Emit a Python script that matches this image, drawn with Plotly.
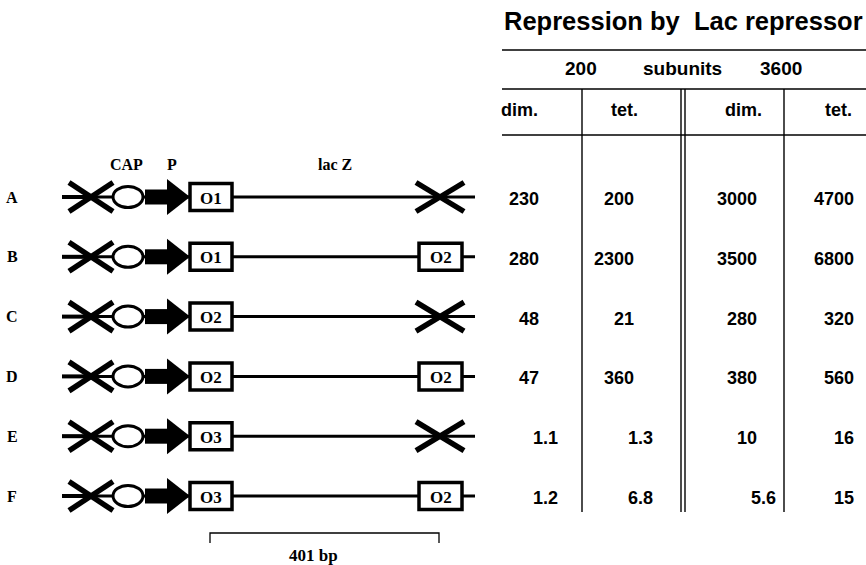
import plotly.graph_objects as go

# ---------------- data ----------------
constructs = ["A", "B", "C", "D", "E", "F"]
first_operator = ["O1", "O1", "O2", "O2", "O3", "O3"]
second_site = [None, "O2", None, "O2", None, "O2"]   # None = deleted (crossed out)
dim_200 = [230, 280, 48, 47, 1.1, 1.2]
tet_200 = [200, 2300, 21, 360, 1.3, 6.8]
dim_3600 = [3000, 3500, 280, 380, 10, 5.6]
tet_3600 = [4700, 6800, 320, 560, 16, 15]
subunit_levels = ["200", "3600"]
column_heads = ["dim.", "tet.", "dim.", "tet."]
element_labels = ["CAP", "P", "lac Z"]
title_text = "Repression by  Lac repressor"
scale_label = "401 bp"

# ---------------- layout constants ----------------
W, H = 866, 565
SANS = "Liberation Sans, Arial, Helvetica, sans-serif"
SERIF = "Liberation Serif, Times New Roman, serif"
ROW0, ROWSTEP = 197, 59.8
def row_y(i):
    return ROW0 + ROWSTEP * i

col_right = [541, 636, 759, 856]
decimal_shift = 19
col_head_x = [519, 624, 743, 838]
vlines = [582, 681, 685, 784]
hlines = [50, 89, 135]
table_left = 502

fig = go.Figure()
fig.update_xaxes(range=[0, W], visible=False, fixedrange=True)
fig.update_yaxes(range=[H, 0], visible=False, fixedrange=True)

def line(x0, y0, x1, y1, w=2, color="black"):
    fig.add_shape(type="line", x0=x0, y0=y0, x1=x1, y1=y1, xref="x", yref="y",
                  line=dict(color=color, width=w), layer="above")

def text(x, y, s, size, family, xanchor="center", bold=True):
    fig.add_annotation(x=x, y=y, xref="x", yref="y", text=f"<b>{s}</b>" if bold else s,
                       showarrow=False, xanchor=xanchor, yanchor="middle",
                       font=dict(family=family, size=size, color="black"))

# ---------------- table ----------------
text(683, 21, title_text, 25.5, SANS)
for y in hlines:
    line(table_left, y, W, y, 1.6)
for x in vlines:
    line(x, hlines[1], x, 512, 1.4)

text(581, 68, subunit_levels[0], 19, SANS)
text(682, 68, "subunits", 19, SANS)
text(781, 68, subunit_levels[1], 19, SANS)
for x, h in zip(col_head_x, column_heads):
    text(x, 110, h, 18, SANS)

def fmt(v):
    return f"{v:g}"

for c, col in enumerate([dim_200, tet_200, dim_3600, tet_3600]):
    for i, v in enumerate(col):
        xr = col_right[c] + (decimal_shift if v != int(v) else 0)
        text(xr, row_y(i) + 2, fmt(v), 18, SANS, xanchor="right")

# ---------------- constructs ----------------
text(126, 164, element_labels[0], 16, SERIF)
text(172, 164, element_labels[1], 16, SERIF)
text(335, 164, element_labels[2], 16, SERIF)

def cross(cx, cy, hw, hh, w=5.5):
    line(cx - hw, cy - hh, cx + hw, cy + hh, w)
    line(cx - hw, cy + hh, cx + hw, cy - hh, w)

def box(x0, x1, cy, label):
    fig.add_shape(type="rect", x0=x0, x1=x1, y0=cy - 13.5, y1=cy + 13.5, xref="x", yref="y",
                  line=dict(color="black", width=3.5), fillcolor="white", layer="above")
    text((x0 + x1) / 2, cy + 1, label, 17, SERIF)

for i, name in enumerate(constructs):
    y = row_y(i)
    text(12, y, name, 16, SERIF)
    # DNA line
    line(62, y, 475, y, 3)
    line(62, y, 90, y, 4)
    # deleted upstream site
    cross(91, y, 22, 14.5)
    # CAP site
    fig.add_shape(type="circle", x0=113, x1=143, y0=y - 10.5, y1=y + 10.5, xref="x", yref="y",
                  line=dict(color="black", width=3), fillcolor="white", layer="above")
    # promoter arrow
    fig.add_shape(type="rect", x0=145, x1=170, y0=y - 7.5, y1=y + 7.5, xref="x", yref="y",
                  line=dict(width=0), fillcolor="black", layer="above")
    fig.add_shape(type="path", path=f"M167,{y-18} L190,{y} L167,{y+18} Z", xref="x", yref="y",
                  line=dict(width=0), fillcolor="black", layer="above")
    # first operator
    box(190, 232, y, first_operator[i])
    # downstream site
    if second_site[i] is None:
        cross(440, y, 24, 14.5)
    else:
        box(419, 462, y, second_site[i])

# scale bar
fig.add_shape(type="path", path="M210,543 L210,533 L439,533 L439,543", xref="x", yref="y",
              line=dict(color="black", width=1.3), layer="above")
text(313, 555, scale_label, 17, SERIF)

fig.update_layout(width=W, height=H, margin=dict(l=0, r=0, t=0, b=0),
                  paper_bgcolor="white", plot_bgcolor="white", showlegend=False)
fig.write_html("out.html", config={"displayModeBar": False},
               post_script="document.body.style.margin='0px';document.body.style.overflow='hidden';")
